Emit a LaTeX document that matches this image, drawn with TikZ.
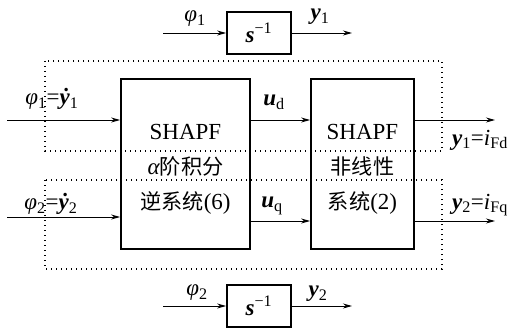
\documentclass[tikz,border=0pt]{standalone}
\usepackage{fontspec}
\setmainfont{Liberation Serif}
\newfontfamily\cjk[Scale=0.92]{Noto Sans CJK SC}
\usetikzlibrary{arrows.meta}

% variables: italic, bold italic, upright subscripts and superscripts
\newcommand\vi[1]{\textit{#1}}
\newcommand\vb[1]{\textbf{\textit{#1}}}
\newcommand\sbs[1]{\textsubscript{\upshape\mdseries #1}}
\newcommand\sps[1]{\textsuperscript{\upshape\mdseries #1}}

\begin{document}
\begin{tikzpicture}[x=1pt,y=-1pt,
  font=\fontsize{23}{27}\selectfont,
  blk/.style={draw, line width=1.8pt, inner sep=0pt},
  sbox/.style={draw, line width=1.8pt, minimum width=64pt, minimum height=42pt, inner sep=0pt},
  sig/.style={line width=0.9pt, -{Stealth[length=9pt,width=5pt]}},
  grp/.style={line width=1.4pt, dash pattern=on 1.4pt off 3.6pt},
  lbl/.style={inner sep=0pt}]
\useasboundingbox (0,0) rectangle (513,331);

% dotted grouping frames (d-axis and q-axis channels)
\draw[grp] (45,61) rectangle (442,151);
\draw[grp] (45,180) rectangle (442,269);

% main blocks
\node[blk, minimum width=129pt, minimum height=170pt] (inv) at (185.5,164) {};
\node[blk, minimum width=103pt, minimum height=170pt] (sys) at (362.5,164) {};

\node[lbl] (invA) at (185.5,132) {SHAPF};
\node[lbl] (invB) at (185.5,166) {\vi{α}{\cjk 阶积分}};
\node[lbl] (invC) at (185.5,203) {{\cjk 逆系统}(6)};
\node[lbl] (sysA) at (362.5,132) {SHAPF};
\node[lbl] (sysB) at (362.5,166) {{\cjk 非线性}};
\node[lbl] (sysC) at (362.5,203) {{\cjk 系统}(2)};

% integrator blocks
\node[sbox] (s1) at (259,33) {\vb{s}\sps{−1}};
\node[sbox] (s2) at (259,306) {\vb{s}\sps{−1}};

% signal end points
\coordinate (p1) at (163,33);
\coordinate (q1) at (352,33);
\coordinate (p2) at (163,306);
\coordinate (q2) at (352,306);
\coordinate (in1) at (7,120);
\coordinate (in2) at (7,217);
\coordinate (mid1) at (280,120);
\coordinate (mid2) at (280,221);
\coordinate (out1) at (495,120);
\coordinate (out2) at (495,221);

% connectors
\draw[sig] (p1) -- (s1);
\draw[sig] (s1) -- (q1);
\draw[sig] (p2) -- (s2);
\draw[sig] (s2) -- (q2);
\draw[sig] (in1) -- (inv.west |- in1);
\draw[sig] (in2) -- (inv.west |- in2);
\draw[sig] (inv.east |- mid1) -- (sys.west |- mid1);
\draw[sig] (inv.east |- mid2) -- (sys.west |- mid2);
\draw[sig] (sys.east |- out1) -- (out1);
\draw[sig] (sys.east |- out2) -- (out2);

% signal labels
\node[lbl] (lp1) at (195,19) {\vi{φ}\sbs{1}};
\node[lbl] (ly1) at (320,17) {\vb{y}\sbs{1}};
\node[lbl] (lp2) at (197,293) {\vi{φ}\sbs{2}};
\node[lbl] (ly2) at (318,294) {\vb{y}\sbs{2}};
\node[lbl] (lin1) at (52,99) {\vi{φ}\sbs{1}=\vb{ẏ}\sbs{1}};
\node[lbl] (lin2) at (51,204) {\vi{φ}\sbs{2}=\vb{ẏ}\sbs{2}};
\node[lbl] (lud) at (274,102) {\vb{u}\sbs{d}};
\node[lbl] (luq) at (272,206) {\vb{u}\sbs{q}};
\node[lbl] (lo1) at (480,140) {\vb{y}\sbs{1}=\vi{i}\sbs{Fd}};
\node[lbl] (lo2) at (480,205) {\vb{y}\sbs{2}=\vi{i}\sbs{Fq}};
\end{tikzpicture}
\end{document}
